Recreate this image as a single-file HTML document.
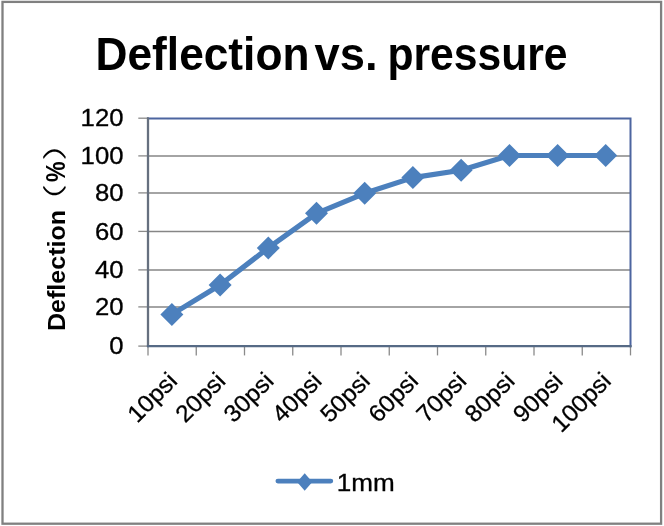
<!DOCTYPE html>
<html lang="en">
<head>
<meta charset="utf-8">
<title>Deflection vs. pressure</title>
<style>
  html, body { margin: 0; padding: 0; background: #ffffff; }
  body { width: 664px; height: 526px; overflow: hidden; }
  svg { display: block; will-change: transform; filter: blur(0.4px); }
  text { font-family: "Liberation Sans", "Noto Sans CJK SC", sans-serif; fill: #000000; }
  .title { font-weight: bold; font-size: 45.5px; }
  .tick { font-size: 23.8px; stroke: #000000; stroke-width: 0.3px; }
  .ytitle { font-weight: bold; font-size: 24.8px; }
  .cjk { font-family: "Noto Sans CJK SC", "Liberation Sans", sans-serif; font-weight: 350; font-size: 24px; }
</style>
</head>
<body>
<svg width="664" height="526" viewBox="0 0 664 526">
  <!-- page + chart frame -->
  <rect x="0" y="0" width="664" height="526" fill="#ffffff"/>
  <rect x="2.5" y="1.9" width="658.6" height="521.8" fill="#ffffff" stroke="#808080" stroke-width="2.3"/>

  <!-- title -->
  <text class="title" y="69.5"><tspan x="95.5" textLength="214" lengthAdjust="spacingAndGlyphs">Deflection</tspan> <tspan x="314.6" textLength="63" lengthAdjust="spacingAndGlyphs">vs.</tspan> <tspan x="387.4" textLength="180.2" lengthAdjust="spacingAndGlyphs">pressure</tspan></text>

  <!-- gridlines -->
  <g stroke="#868686" stroke-width="1.5" fill="none">
    <line x1="148" y1="155.9" x2="630.5" y2="155.9"/>
    <line x1="148" y1="192.9" x2="630.5" y2="192.9"/>
    <line x1="148" y1="231.4" x2="630.5" y2="231.4"/>
    <line x1="148" y1="269.9" x2="630.5" y2="269.9"/>
    <line x1="148" y1="306.9" x2="630.5" y2="306.9"/>
  </g>

  <!-- y tick marks -->
  <g stroke="#8a8a8a" stroke-width="1.3" fill="none">
    <line x1="138.3" y1="118.2" x2="148" y2="118.2"/>
    <line x1="138.3" y1="155.9" x2="148" y2="155.9"/>
    <line x1="138.3" y1="192.9" x2="148" y2="192.9"/>
    <line x1="138.3" y1="231.4" x2="148" y2="231.4"/>
    <line x1="138.3" y1="269.9" x2="148" y2="269.9"/>
    <line x1="138.3" y1="306.9" x2="148" y2="306.9"/>
    <line x1="138.3" y1="346.1" x2="148" y2="346.1"/>
  </g>
  <!-- x tick marks -->
  <g stroke="#8a8a8a" stroke-width="1.3" fill="none">
    <line x1="148.00" y1="346.1" x2="148.00" y2="355.4"/>
    <line x1="196.25" y1="346.1" x2="196.25" y2="355.4"/>
    <line x1="244.50" y1="346.1" x2="244.50" y2="355.4"/>
    <line x1="292.75" y1="346.1" x2="292.75" y2="355.4"/>
    <line x1="341.00" y1="346.1" x2="341.00" y2="355.4"/>
    <line x1="389.25" y1="346.1" x2="389.25" y2="355.4"/>
    <line x1="437.50" y1="346.1" x2="437.50" y2="355.4"/>
    <line x1="485.75" y1="346.1" x2="485.75" y2="355.4"/>
    <line x1="534.00" y1="346.1" x2="534.00" y2="355.4"/>
    <line x1="582.25" y1="346.1" x2="582.25" y2="355.4"/>
    <line x1="630.50" y1="346.1" x2="630.50" y2="355.4"/>
  </g>

  <!-- plot area border -->
  <path d="M147,118.4 L630.5,118.4 L630.5,347.2" fill="none" stroke="#4c65a0" stroke-width="2" stroke-linejoin="miter"/>
  <!-- axes drawn on top (greyer) -->
  <line x1="148" y1="117.3" x2="148" y2="347.2" stroke="#66707f" stroke-width="2.3"/>
  <line x1="146.9" y1="346.1" x2="631.6" y2="346.1" stroke="#566a85" stroke-width="2.2"/>

  <!-- series line -->
  <polyline fill="none" stroke="#4c80bd" stroke-width="5.2" stroke-linejoin="round" stroke-linecap="round"
    points="171.9,314.4 220.1,285.0 268.3,247.9 316.5,213.3 364.7,193.3 412.9,177.6 461.1,170.2 509.5,155.5 557.6,155.5 605.7,155.5"/>
  <!-- markers -->
  <g fill="#4c80bd">
    <path d="M171.9,302.9 L183.4,314.4 L171.9,325.9 L160.4,314.4 Z"/>
    <path d="M220.1,273.5 L231.6,285.0 L220.1,296.5 L208.6,285.0 Z"/>
    <path d="M268.3,236.4 L279.8,247.9 L268.3,259.4 L256.8,247.9 Z"/>
    <path d="M316.5,201.8 L328.0,213.3 L316.5,224.8 L305.0,213.3 Z"/>
    <path d="M364.7,181.8 L376.2,193.3 L364.7,204.8 L353.2,193.3 Z"/>
    <path d="M412.9,166.1 L424.4,177.6 L412.9,189.1 L401.4,177.6 Z"/>
    <path d="M461.1,158.7 L472.6,170.2 L461.1,181.7 L449.6,170.2 Z"/>
    <path d="M509.5,144.0 L521.0,155.5 L509.5,167.0 L498.0,155.5 Z"/>
    <path d="M557.6,144.0 L569.1,155.5 L557.6,167.0 L546.1,155.5 Z"/>
    <path d="M605.7,144.0 L617.2,155.5 L605.7,167.0 L594.2,155.5 Z"/>
  </g>

  <!-- y tick labels -->
  <g class="tick" text-anchor="end">
    <text x="123.5" y="126.3" textLength="42.9" lengthAdjust="spacingAndGlyphs">120</text>
    <text x="123.5" y="164.0" textLength="42.9" lengthAdjust="spacingAndGlyphs">100</text>
    <text x="123.5" y="201.0" textLength="28.6" lengthAdjust="spacingAndGlyphs">80</text>
    <text x="123.5" y="239.5" textLength="28.6" lengthAdjust="spacingAndGlyphs">60</text>
    <text x="123.5" y="278.0" textLength="28.6" lengthAdjust="spacingAndGlyphs">40</text>
    <text x="123.5" y="315.0" textLength="28.6" lengthAdjust="spacingAndGlyphs">20</text>
    <text x="123.5" y="353.9" textLength="14.3" lengthAdjust="spacingAndGlyphs">0</text>
  </g>

  <!-- x tick labels -->
  <g class="tick" text-anchor="end">
    <text transform="translate(178.6,382.4) rotate(-45)" textLength="58.6" lengthAdjust="spacingAndGlyphs">10psi</text>
    <text transform="translate(226.8,382.4) rotate(-45)" textLength="58.6" lengthAdjust="spacingAndGlyphs">20psi</text>
    <text transform="translate(275.0,382.4) rotate(-45)" textLength="58.6" lengthAdjust="spacingAndGlyphs">30psi</text>
    <text transform="translate(323.2,382.4) rotate(-45)" textLength="58.6" lengthAdjust="spacingAndGlyphs">40psi</text>
    <text transform="translate(371.4,382.4) rotate(-45)" textLength="58.6" lengthAdjust="spacingAndGlyphs">50psi</text>
    <text transform="translate(419.6,382.4) rotate(-45)" textLength="58.6" lengthAdjust="spacingAndGlyphs">60psi</text>
    <text transform="translate(467.8,382.4) rotate(-45)" textLength="58.6" lengthAdjust="spacingAndGlyphs">70psi</text>
    <text transform="translate(516.0,382.4) rotate(-45)" textLength="58.6" lengthAdjust="spacingAndGlyphs">80psi</text>
    <text transform="translate(564.2,382.4) rotate(-45)" textLength="58.6" lengthAdjust="spacingAndGlyphs">90psi</text>
    <text transform="translate(612.4,382.4) rotate(-45)" textLength="72.3" lengthAdjust="spacingAndGlyphs">100psi</text>
  </g>

  <!-- y axis title -->
  <text class="ytitle" transform="translate(64.8,331) rotate(-90)"><tspan x="0" y="0" textLength="121" lengthAdjust="spacingAndGlyphs">Deflection</tspan> <tspan class="cjk" x="108.8" y="-1.4" textLength="38.4" lengthAdjust="spacingAndGlyphs">（</tspan><tspan x="149.1" y="0.5" style="font-size:27.5px" textLength="20.6" lengthAdjust="spacingAndGlyphs">%</tspan><tspan class="cjk" x="170.2" y="-1.4" textLength="38.4" lengthAdjust="spacingAndGlyphs">）</tspan></text>

  <!-- legend -->
  <line x1="277.9" y1="481.1" x2="330.8" y2="481.1" stroke="#4c80bd" stroke-width="4.8" stroke-linecap="round"/>
  <path d="M304.7,473.2 L312.3,482 L304.7,490.8 L297.1,482 Z" fill="#4c80bd"/>
  <text class="tick" x="336.8" y="490.8" textLength="58" lengthAdjust="spacingAndGlyphs">1mm</text>
</svg>
</body>
</html>
